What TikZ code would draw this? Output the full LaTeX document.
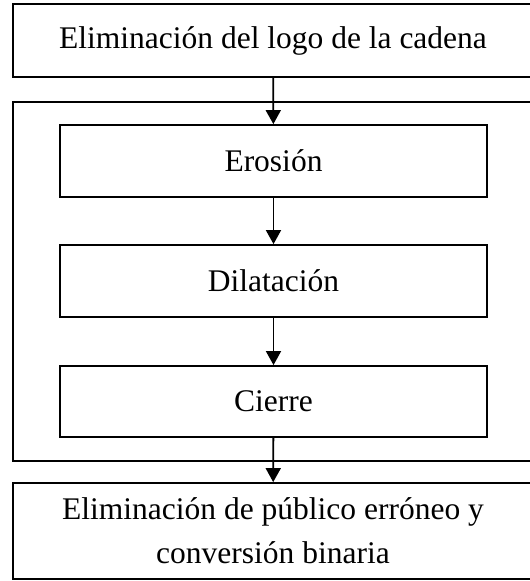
\documentclass[tikz,border=0pt]{standalone}
\usepackage{fontspec}
\setmainfont{Liberation Serif}
\usetikzlibrary{arrows.meta}

\begin{document}
\begin{tikzpicture}[x=1pt,y=-1pt,line width=1.8pt,
	>={Triangle[length=14pt,width=15pt]},
	caja/.style={draw,rectangle,inner sep=0pt,align=center,font=\fontsize{31.5}{44}\selectfont},
	ancha/.style={caja,minimum width=520pt},
	paso/.style={caja,minimum width=427pt,minimum height=72pt}]
	\useasboundingbox (0,0) rectangle (530,581);
	\clip (0,0) rectangle (530,581);
	\node[ancha,minimum height=73pt] (logo) at (273,40.5) {Eliminación del logo de la cadena};
	\node[ancha,minimum height=359pt] (morfo) at (273,281.5) {};
	\node[paso] (erosion) at (273.5,161) {Erosión};
	\node[paso] (dilatacion) at (273.5,281) {Dilatación};
	\node[paso,minimum height=71pt] (cierre) at (273.5,401.5) {Cierre};
	\node[ancha,minimum height=96pt] (binaria) at (273,531) {Eliminación de público erróneo y\\conversión binaria};
	\draw[->] (logo) -- (erosion);
	\draw[->] (erosion) -- (dilatacion);
	\draw[->] (dilatacion) -- (cierre);
	\draw[->] (cierre) -- (binaria);
\end{tikzpicture}
\end{document}
